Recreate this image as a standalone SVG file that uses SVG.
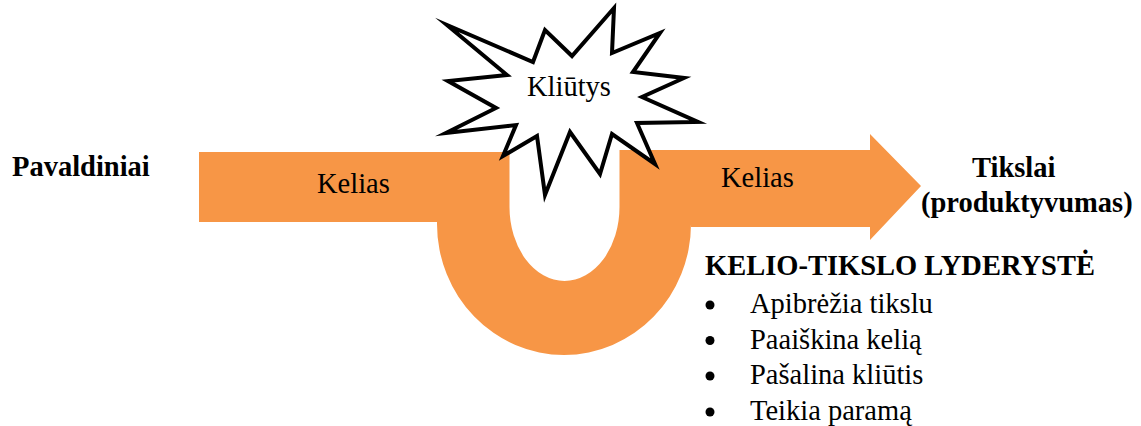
<svg xmlns="http://www.w3.org/2000/svg" width="1141" height="426" viewBox="0 0 1141 426">
<style>
.t{font-family:"Liberation Serif","Times New Roman",Tinos,"DejaVu Serif",serif;font-size:28.5px;fill:#000}
.b{font-weight:bold}
.road{fill:#F79646}
.burst{fill:#fff;stroke:#000;stroke-width:4;stroke-linejoin:miter;stroke-miterlimit:20}
</style>
<rect width="1141" height="426" fill="#fff"/>
<g id="path-arrow">
<path class="road" d="M199 152 H509.5 V207 A55 74 0 0 0 619.5 207 V150 H870 V134 L921 186 L870 240 V227 H691 V224 A127 131 0 0 1 437 224 V222 H199 Z"/>
<text class="t" x="317" y="193">Kelias</text>
<text class="t" x="721" y="187">Kelias</text>
</g>
<g id="obstacle">
<polygon class="burst" points="614,8 612,53 660,33 633,72 684,78 642,97 698,122 637,123 655,164 612,134 600,174 570,132 545,195 537,136 503,156 516,125 446,133 496,108 448,81 507,75 447,25 533,62 545,30 572,56"/>
<text class="t" x="527" y="96">Kliūtys</text>
</g>
<g id="subordinates">
<text class="t b" x="12" y="176">Pavaldiniai</text>
</g>
<g id="goals">
<text class="t b" x="972" y="177">Tikslai</text>
<text class="t b" x="921" y="212">(produktyvumas)</text>
</g>
<g id="leadership">
<text class="t b" x="705" y="275">KELIO-TIKSLO LYDERYSTĖ</text>
<circle cx="710" cy="305" r="4.5"/>
<text class="t" x="750" y="313">Apibrėžia tikslu</text>
<circle cx="710" cy="340.5" r="4.5"/>
<text class="t" x="750" y="348.5">Paaiškina kelią</text>
<circle cx="710" cy="376" r="4.5"/>
<text class="t" x="750" y="384">Pašalina kliūtis</text>
<circle cx="710" cy="412" r="4.5"/>
<text class="t" x="750" y="420">Teikia paramą</text>
</g>
</svg>
